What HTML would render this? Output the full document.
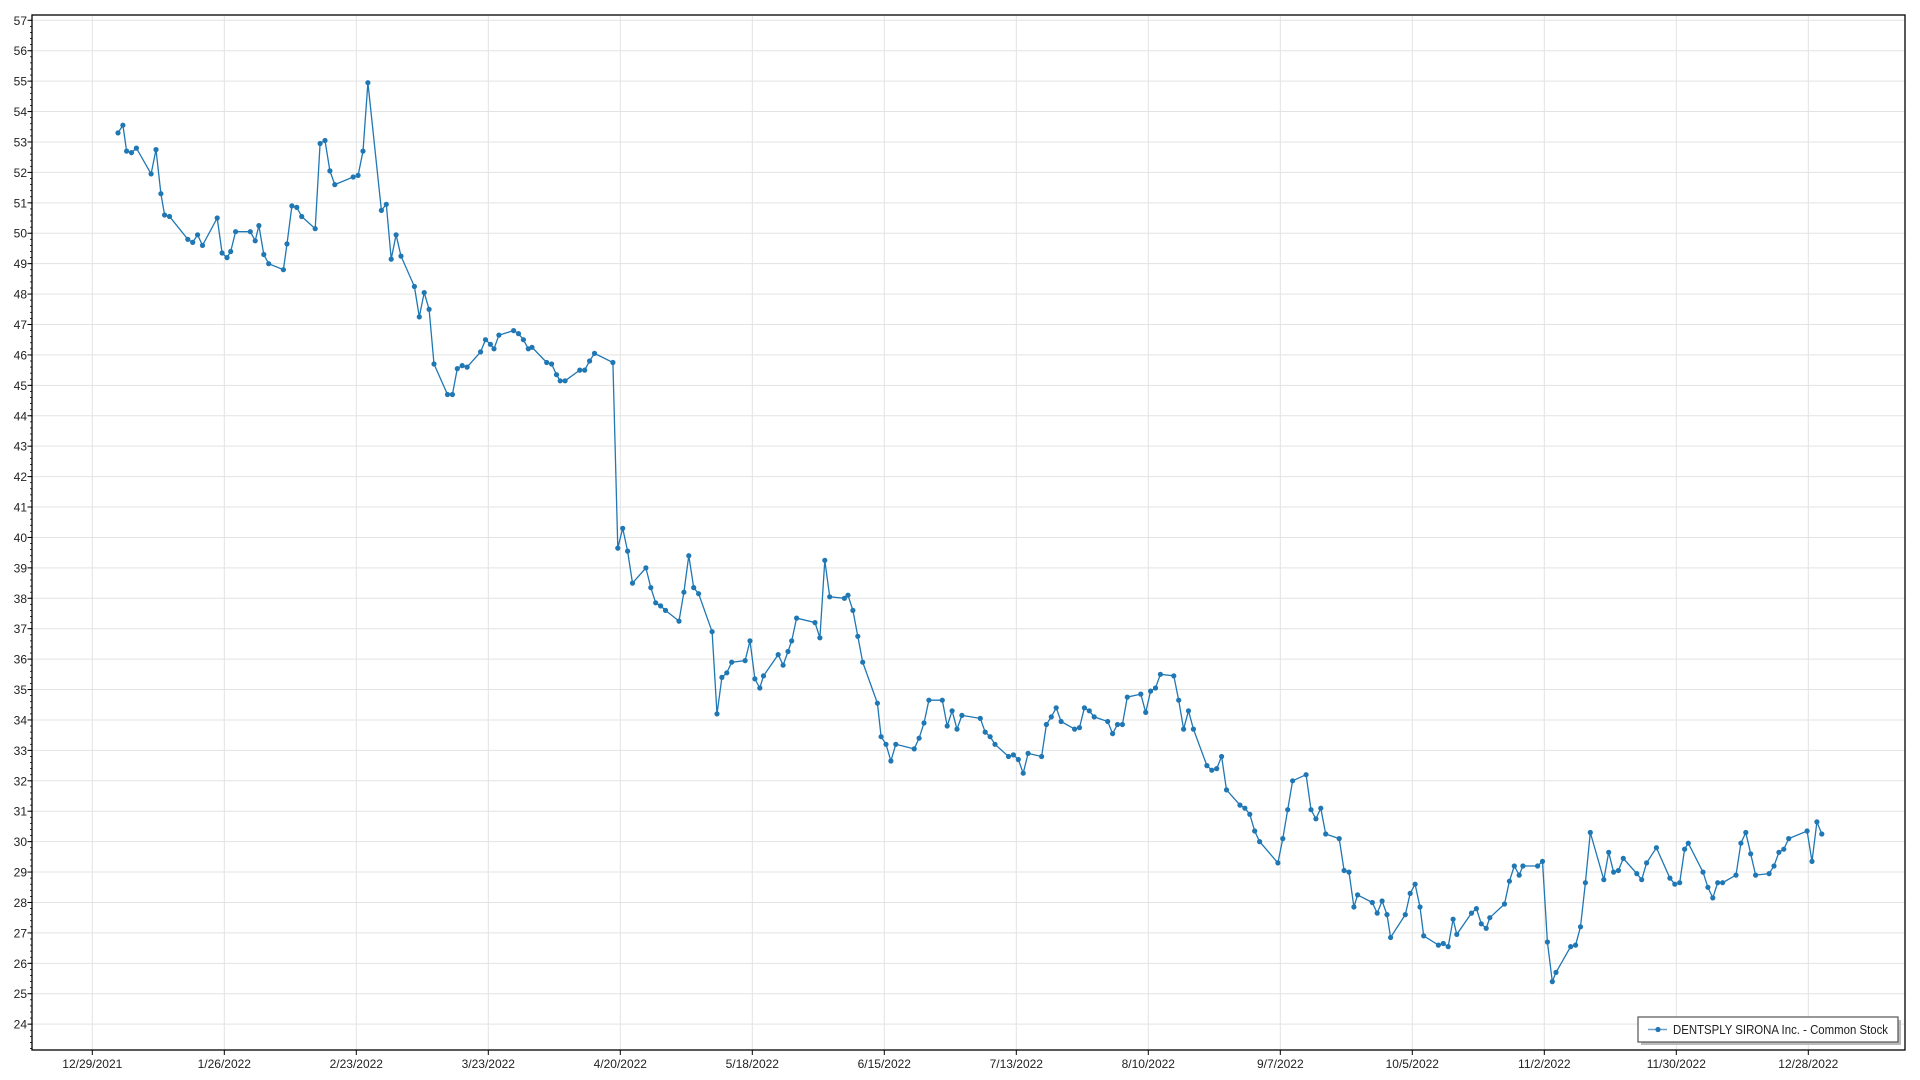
<!DOCTYPE html>
<html><head><meta charset="utf-8"><style>
html,body{margin:0;padding:0;background:#fff;width:1920px;height:1080px;overflow:hidden}
svg{display:block;font-family:"Liberation Sans",sans-serif}
</style></head><body>
<svg id="c" width="1920" height="1080" xmlns="http://www.w3.org/2000/svg"></svg>
<script>
const d=[[96,53.3],[100,53.55],[103,52.7],[107,52.65],[111,52.8],[123,51.95],[127,52.75],[131,51.3],[134,50.6],[138,50.55],[153,49.8],[157,49.7],[161,49.95],[165,49.6],[177,50.5],[181,49.35],[185,49.2],[188,49.4],[192,50.05],[204,50.05],[208,49.75],[211,50.25],[215,49.3],[219,49.0],[231,48.8],[234,49.65],[238,50.9],[242,50.85],[246,50.55],[257,50.15],[261,52.95],[265,53.05],[269,52.05],[273,51.6],[288,51.85],[292,51.9],[296,52.7],[300,54.95],[311,50.75],[315,50.95],[319,49.15],[323,49.95],[327,49.25],[338,48.25],[342,47.25],[346,48.05],[350,47.5],[354,45.7],[365,44.7],[369,44.7],[373,45.55],[377,45.65],[381,45.6],[392,46.1],[396,46.5],[400,46.35],[403,46.2],[407,46.65],[419,46.8],[423,46.7],[427,46.5],[431,46.2],[434,46.25],[446,45.75],[450,45.7],[454,45.35],[457,45.15],[461,45.15],[473,45.5],[477,45.5],[481,45.8],[485,46.05],[500,45.75],[504,39.65],[508,40.3],[512,39.55],[516,38.5],[527,39.0],[531,38.35],[535,37.85],[539,37.75],[543,37.6],[554,37.25],[558,38.2],[562,39.4],[566,38.35],[570,38.15],[581,36.9],[585,34.2],[589,35.4],[593,35.55],[597,35.9],[608,35.95],[612,36.6],[616,35.35],[620,35.05],[623,35.45],[635,36.15],[639,35.8],[643,36.25],[646,36.6],[650,37.35],[665,37.2],[669,36.7],[673,39.25],[677,38.05],[689,38.0],[692,38.1],[696,37.6],[700,36.75],[704,35.9],[716,34.55],[719,33.45],[723,33.2],[727,32.65],[731,33.2],[746,33.05],[750,33.4],[754,33.9],[758,34.65],[769,34.65],[773,33.8],[777,34.3],[781,33.7],[785,34.15],[800,34.05],[804,33.6],[808,33.45],[812,33.2],[823,32.8],[827,32.85],[831,32.7],[835,32.25],[839,32.9],[850,32.8],[854,33.85],[858,34.1],[862,34.4],[866,33.95],[877,33.7],[881,33.75],[885,34.4],[889,34.3],[893,34.1],[904,33.95],[908,33.55],[912,33.85],[916,33.85],[920,34.75],[931,34.85],[935,34.25],[939,34.95],[943,35.05],[947,35.5],[958,35.45],[962,34.65],[966,33.7],[970,34.3],[974,33.7],[985,32.5],[989,32.35],[993,32.4],[997,32.8],[1001,31.7],[1012,31.2],[1016,31.1],[1020,30.9],[1024,30.35],[1028,30.0],[1043,29.3],[1047,30.1],[1051,31.05],[1055,32.0],[1066,32.2],[1070,31.05],[1074,30.75],[1078,31.1],[1082,30.25],[1093,30.1],[1097,29.05],[1101,29.0],[1105,27.85],[1108,28.25],[1120,28.0],[1124,27.65],[1128,28.05],[1132,27.6],[1135,26.85],[1147,27.6],[1151,28.3],[1155,28.6],[1159,27.85],[1162,26.9],[1174,26.6],[1178,26.65],[1182,26.55],[1186,27.45],[1189,26.95],[1201,27.65],[1205,27.8],[1209,27.3],[1213,27.15],[1216,27.5],[1228,27.95],[1232,28.7],[1236,29.2],[1240,28.9],[1243,29.2],[1255,29.2],[1259,29.35],[1263,26.7],[1267,25.4],[1270,25.7],[1282,26.55],[1286,26.6],[1290,27.2],[1294,28.65],[1298,30.3],[1309,28.75],[1313,29.65],[1317,29.0],[1321,29.05],[1325,29.45],[1336,28.95],[1340,28.75],[1344,29.3],[1352,29.8],[1363,28.8],[1367,28.6],[1371,28.65],[1375,29.75],[1378,29.95],[1390,29.0],[1394,28.5],[1398,28.15],[1402,28.65],[1406,28.65],[1417,28.9],[1421,29.95],[1425,30.3],[1429,29.6],[1433,28.9],[1444,28.95],[1448,29.2],[1452,29.65],[1456,29.75],[1460,30.1],[1475,30.35],[1479,29.35],[1483,30.65],[1487,30.25]];
const X=dx=>92.3+(dx-75)*1716/1401, Y=v=>20.3+(57-v)*30.42;
let s='';
const L=32,R=1905,T=15,B=1050;
for(let v=24;v<=57;v++){const y=Y(v);s+=`<line x1="${L}" x2="${R}" y1="${y}" y2="${y}" stroke="#e3e3e3"/>`;s+=`<text x="27" y="${y+4.5}" font-size="12" text-anchor="end" fill="#222">${v}</text>`;s+=`<line x1="27.5" x2="${L}" y1="${y}" y2="${y}" stroke="#000"/>`;}
for(let v=23.2;v<57.1;v+=0.2){const y=Y(v);if(y<T+1||y>B-1)continue;s+=`<line x1="30" x2="${L}" y1="${y}" y2="${y}" stroke="#000" stroke-width="0.8"/>`;}
const labs=["12/29/2021","1/26/2022","2/23/2022","3/23/2022","4/20/2022","5/18/2022","6/15/2022","7/13/2022","8/10/2022","9/7/2022","10/5/2022","11/2/2022","11/30/2022","12/28/2022"];
labs.forEach((t,i)=>{const x=92.3+i*132;s+=`<line x1="${x}" x2="${x}" y1="${T}" y2="${B}" stroke="#e3e3e3"/>`;s+=`<line x1="${x}" x2="${x}" y1="${B}" y2="${B+5}" stroke="#000"/>`;s+=`<text x="${x}" y="${B+18}" font-size="12" text-anchor="middle" fill="#222">${t}</text>`;});
s+=`<rect x="${L}" y="${T}" width="${R-L}" height="${B-T}" fill="none" stroke="#000" stroke-width="1.3"/>`;
s+=`<polyline fill="none" stroke="#1f77b4" stroke-width="1.3" points="${d.map(p=>X(p[0]).toFixed(1)+','+Y(p[1]).toFixed(1)).join(' ')}"/>`;
d.forEach(p=>{s+=`<circle cx="${X(p[0]).toFixed(1)}" cy="${Y(p[1]).toFixed(1)}" r="2.6" fill="#1f77b4"/>`});
s+=`<rect x="1641" y="1020" width="260" height="25" fill="#bbb"/>`;
s+=`<rect x="1638" y="1017" width="260" height="25" fill="#fff" stroke="#555" stroke-width="1.2"/>`;
s+=`<line x1="1648" x2="1667" y1="1029.5" y2="1029.5" stroke="#6fa0cc" stroke-width="1.5"/><circle cx="1658" cy="1029.5" r="2.6" fill="#1f77b4"/>`;
s+=`<text x="1673" y="1034" font-size="12.5" fill="#222" textLength="215" lengthAdjust="spacingAndGlyphs">DENTSPLY SIRONA Inc. - Common Stock</text>`;
document.getElementById('c').innerHTML=s;
</script>
</body></html>
